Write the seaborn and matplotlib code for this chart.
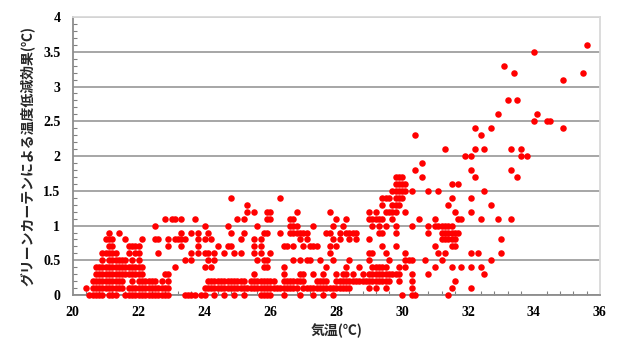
import numpy as np
import pandas as pd
import matplotlib
matplotlib.use("Agg")
import matplotlib.pyplot as plt
import seaborn as sns
from matplotlib.ticker import MultipleLocator

# temperature readings (気温 ℃) grouped by the green-curtain cooling effect (℃)
eff_00 = [20.5, 20.6, 20.7, 20.8, 20.9, 21.1, 21.2, 21.3, 21.6, 21.7, 21.8, 21.9, 22.0, 22.1,
          22.2, 22.3, 22.4, 22.5, 22.6, 22.7, 22.8, 22.9, 23.4, 23.5, 23.6, 23.7, 23.9, 24.0,
          24.3, 24.6, 24.9, 25.2, 25.7, 25.8, 25.9, 26.0, 26.4, 26.9, 27.3, 27.6, 27.9, 30.0,
          30.3, 30.4, 31.4]
eff_01 = [20.4, 20.6, 20.7, 20.8, 20.9, 21.0, 21.1, 21.2, 21.3, 21.4, 21.5, 21.7, 21.8, 21.9,
          22.0, 22.1, 22.2, 22.3, 22.4, 22.5, 22.6, 22.7, 22.8, 22.9, 24.0, 24.1, 24.2, 24.3,
          24.4, 24.5, 24.6, 24.7, 24.8, 24.9, 25.0, 25.1, 25.2, 25.3, 25.4, 25.5, 25.6, 25.7,
          25.8, 25.9, 26.0, 26.1, 26.2, 26.3, 26.4, 26.5, 26.6, 26.7, 26.8, 27.0, 27.1, 27.2,
          27.3, 27.4, 27.5, 27.6, 27.7, 27.8, 27.9, 28.0, 28.1, 28.2, 28.3, 28.4, 29.0, 29.2,
          29.5, 30.3, 31.5, 32.1]
eff_02 = [20.6, 20.7, 20.8, 20.9, 21.0, 21.1, 21.2, 21.3, 21.4, 21.5, 21.8, 22.0, 22.1, 22.2,
          22.3, 22.4, 22.5, 22.7, 22.9, 24.1, 24.2, 24.3, 24.4, 24.5, 24.6, 24.7, 24.8, 24.9,
          25.0, 25.1, 25.2, 25.4, 25.5, 25.6, 25.7, 25.8, 25.9, 26.0, 26.1, 26.4, 26.5, 26.6,
          26.7, 26.8, 26.9, 27.0, 27.4, 27.5, 27.6, 27.7, 28.0, 28.1, 28.2, 28.3, 28.4, 28.5,
          28.6, 28.7, 28.8, 28.9, 29.0, 29.1, 29.2, 29.3, 29.4, 29.5, 29.6, 29.9, 30.3, 31.6]
eff_03 = [20.7, 20.8, 20.9, 21.0, 21.1, 21.2, 21.3, 21.4, 21.5, 21.6, 21.7, 21.8, 21.9, 22.0,
          22.1, 22.8, 22.9, 25.5, 26.4, 26.9, 27.0, 27.3, 27.6, 28.0, 28.2, 28.3, 28.5, 28.8,
          29.0, 29.1, 29.2, 29.3, 29.4, 29.5, 29.6, 29.7, 29.8, 29.9, 30.3, 30.8, 32.5]
eff_04 = [20.7, 20.8, 20.9, 21.0, 21.1, 21.2, 21.3, 21.4, 21.5, 21.6, 21.7, 21.8, 21.9, 22.0,
          22.1, 23.1, 24.0, 24.2, 25.8, 25.9, 26.4, 27.7, 28.3, 28.7, 29.1, 29.2, 29.3, 29.4,
          29.5, 29.9, 30.1, 31.0, 31.5, 31.8, 32.1, 32.4]
eff_05 = [20.9, 21.1, 21.2, 21.3, 21.4, 21.5, 21.6, 21.8, 22.0, 23.4, 23.6, 24.1, 24.3, 25.6,
          25.8, 25.9, 26.7, 26.9, 27.1, 27.2, 27.5, 27.9, 28.4, 29.0, 29.6, 30.1, 30.2, 30.3,
          30.7, 31.2, 32.7]
eff_06 = [20.9, 21.0, 21.1, 21.2, 21.3, 21.7, 21.9, 22.0, 22.6, 23.6, 23.8, 24.0, 24.1, 24.3,
          24.6, 24.9, 25.1, 25.5, 25.7, 26.0, 27.8, 29.0, 29.1, 29.5, 30.1, 31.1, 31.3, 32.1,
          32.3, 33.0]
eff_07 = [21.1, 21.2, 21.7, 21.8, 21.9, 22.0, 22.9, 23.3, 23.8, 24.4, 24.7, 24.8, 25.5, 25.7,
          26.4, 26.5, 26.7, 27.0, 27.2, 27.3, 27.4, 27.8, 28.0, 29.4, 29.8, 31.0, 31.5, 31.6]
eff_08 = [21.0, 21.1, 21.2, 21.6, 22.1, 22.5, 22.6, 22.9, 23.1, 23.2, 23.3, 23.4, 23.8, 24.0,
          24.2, 25.1, 25.5, 25.7, 26.9, 27.1, 27.9, 28.1, 28.4, 28.6, 29.0, 31.2, 31.3, 31.4,
          31.5, 31.6, 33.0]
eff_09 = [21.1, 21.4, 23.3, 23.6, 23.8, 24.1, 24.8, 25.2, 25.8, 25.9, 26.3, 26.6, 26.7, 26.8,
          26.9, 27.0, 27.1, 27.7, 27.8, 28.1, 28.3, 28.4, 28.5, 28.6, 29.3, 29.4, 29.8, 30.8,
          31.2, 31.3, 31.4, 31.5, 31.6, 31.7]
eff_10 = [22.5, 24.0, 24.7, 25.6, 26.6, 26.7, 26.8, 27.3, 27.9, 28.2, 29.1, 29.3, 29.5, 29.8,
          30.3, 30.8, 31.0, 31.1, 31.2, 31.3, 31.4, 31.5]
eff_11 = [22.8, 23.0, 23.1, 23.3, 23.7, 25.0, 25.2, 25.9, 26.0, 26.6, 26.7, 28.0, 28.3, 29.0,
          29.1, 29.2, 29.3, 29.4, 29.7, 30.5, 31.0, 31.7, 31.8, 32.4, 32.9, 33.3]
eff_12 = [25.3, 25.5, 25.9, 26.0, 26.8, 27.8, 29.0, 29.2, 29.5, 29.6, 29.7, 29.8, 30.1, 31.6, 32.1]
eff_13 = [25.3, 29.4, 29.7, 29.8, 29.9, 31.4, 32.7]
eff_14 = [24.8, 26.3, 29.4, 29.5, 29.6, 29.8, 29.9, 30.0, 31.5, 32.1]
eff_15 = [29.7, 29.8, 29.9, 30.0, 30.1, 30.3, 30.8, 31.1, 32.5]
eff_16 = [29.8, 29.9, 30.0, 30.1, 31.5, 31.7]
eff_17 = [29.8, 29.9, 30.0, 30.6, 32.2, 33.5]
eff_18 = [30.4, 32.1, 33.3]
eff_19 = [30.6]
eff_20 = [31.9, 32.1, 33.6, 33.8]
eff_21 = [31.3, 32.2, 32.5, 33.3, 33.6]
eff_23 = [30.4, 32.4]
eff_24 = [32.2, 32.7, 34.9]
eff_25 = [34.0, 34.4, 34.5]
eff_26 = [32.9, 34.1]
eff_28 = [33.2, 33.5]
eff_31 = [34.9]
eff_32 = [33.4, 35.5]
eff_33 = [33.1]
eff_35 = [34.0]
eff_36 = [35.6]

effect_values = [0.0, 0.1, 0.2, 0.3, 0.4, 0.5, 0.6, 0.7, 0.8, 0.9, 1.0, 1.1, 1.2, 1.3, 1.4,
                 1.5, 1.6, 1.7, 1.8, 1.9, 2.0, 2.1, 2.3, 2.4, 2.5, 2.6, 2.8, 3.1, 3.2, 3.3,
                 3.5, 3.6]
temp_groups = [eff_00, eff_01, eff_02, eff_03, eff_04, eff_05, eff_06, eff_07, eff_08, eff_09,
               eff_10, eff_11, eff_12, eff_13, eff_14, eff_15, eff_16, eff_17, eff_18, eff_19,
               eff_20, eff_21, eff_23, eff_24, eff_25, eff_26, eff_28, eff_31, eff_32, eff_33,
               eff_35, eff_36]

y_ticks = [0, 0.5, 1, 1.5, 2, 2.5, 3, 3.5, 4]
y_ticklabels = ["0", "0.5", "1", "1.5", "2", "2.5", "3", "3.5", "4"]
x_ticks = [20, 22, 24, 26, 28, 30, 32, 34, 36]

rows = []
for eff, temps in zip(effect_values, temp_groups):
    for t in temps:
        rows.append((t, eff))
df = pd.DataFrame(rows, columns=["temp", "effect"])

sns.set_style("white")
jp = ["Noto Sans CJK JP", "DejaVu Sans"]

fig, ax = plt.subplots(figsize=(6.17, 3.4), dpi=100)
fig.subplots_adjust(left=0.118, right=0.972, bottom=0.132, top=0.95)

ax.yaxis.grid(True, color="#a6a6a6", linewidth=1.4, zorder=0)
ax.set_axisbelow(True)
sns.scatterplot(data=df, x="temp", y="effect", color="#ff0000", s=22, linewidth=0,
                ax=ax, zorder=3, clip_on=False)

ax.set_xlim(20, 36)
ax.set_ylim(0, 4)
ax.set_xticks(x_ticks)
ax.set_yticks(y_ticks)
ax.set_yticklabels(y_ticklabels)
ax.xaxis.set_minor_locator(MultipleLocator(0.4))
ax.yaxis.set_minor_locator(MultipleLocator(0.1))
ax.tick_params(axis="both", which="both", direction="in", colors="#808080",
               labelcolor="black")
ax.tick_params(axis="x", which="major", length=4, width=1, pad=8)
ax.tick_params(axis="x", which="minor", length=3, width=0.8, bottom=True)
ax.tick_params(axis="y", which="major", length=0, pad=9)
ax.tick_params(axis="y", which="minor", length=3, width=0.8, left=True)
for lab in ax.get_xticklabels() + ax.get_yticklabels():
    lab.set_fontfamily("Liberation Serif")
    lab.set_fontweight("bold")
    lab.set_fontsize(10)

for side in ["left", "bottom"]:
    ax.spines[side].set_color("#8c8c8c")
    ax.spines[side].set_linewidth(1.3)
for side in ["top", "right"]:
    ax.spines[side].set_color("#d9d9d9")
    ax.spines[side].set_linewidth(1.3)

ax.set_xlabel("気温(℃)", family=jp, fontweight="bold", fontsize=10, labelpad=3)
ax.set_ylabel("グリーンカーテンによる温度低減効果(℃)", family=jp, fontweight="bold",
              fontsize=10, labelpad=6)

fig.savefig("out.png", dpi=100)
